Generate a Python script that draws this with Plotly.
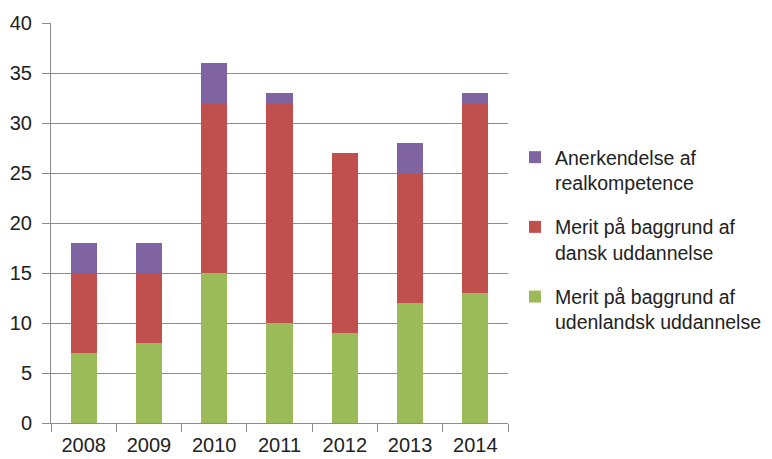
import plotly.graph_objects as go

years = ["2008", "2009", "2010", "2011", "2012", "2013", "2014"]
udenlandsk = [7, 8, 15, 10, 9, 12, 13]
dansk = [8, 7, 17, 22, 18, 13, 19]
realkompetence = [3, 3, 4, 1, 0, 3, 1]

names = [
    "Merit på baggrund af<br>udenlandsk uddannelse",
    "Merit på baggrund af<br>dansk uddannelse",
    "Anerkendelse af<br>realkompetence",
]
colors = ["#9BBB59", "#C0504D", "#8064A2"]
ranks = [3, 2, 1]

fig = go.Figure()
for i, (vals, name, col) in enumerate(zip([udenlandsk, dansk, realkompetence], names, colors)):
    fig.add_trace(go.Bar(x=years, y=vals, name=name, marker_color=col,
                         marker_line_width=0, legendgroup="g%d" % i,
                         legendrank=ranks[i]))

FONT = "Liberation Sans"
fig.update_layout(
    width=764, height=451,
    barmode="stack", bargap=0.6,
    margin=dict(l=43, r=264, t=15, b=36, autoexpand=False),
    paper_bgcolor="white", plot_bgcolor="white",
    font=dict(family=FONT, size=20, color="#222222"),
    legend=dict(traceorder="grouped", xref="container", yref="container",
                x=0.6636, y=0.7118, yanchor="top",
                xanchor="left", valign="top", tracegroupgap=16,
                font=dict(size=19.5, color="#222222"), itemwidth=30),
    yaxis=dict(range=[0, 40], dtick=5, showgrid=True, gridcolor="#8c8c8c",
               gridwidth=1, showline=True, linecolor="#8c8c8c", ticks="outside",
               ticklen=8, tickcolor="#8c8c8c", zeroline=False,
               ticklabelstandoff=6, automargin=False),
    xaxis=dict(showline=True, linecolor="#8c8c8c", ticks="outside", ticklen=8,
               tickcolor="#8c8c8c", tickson="boundaries", mirror=False,
               ticklabelstandoff=4, automargin=False),
)
fig.write_html("out.html")
